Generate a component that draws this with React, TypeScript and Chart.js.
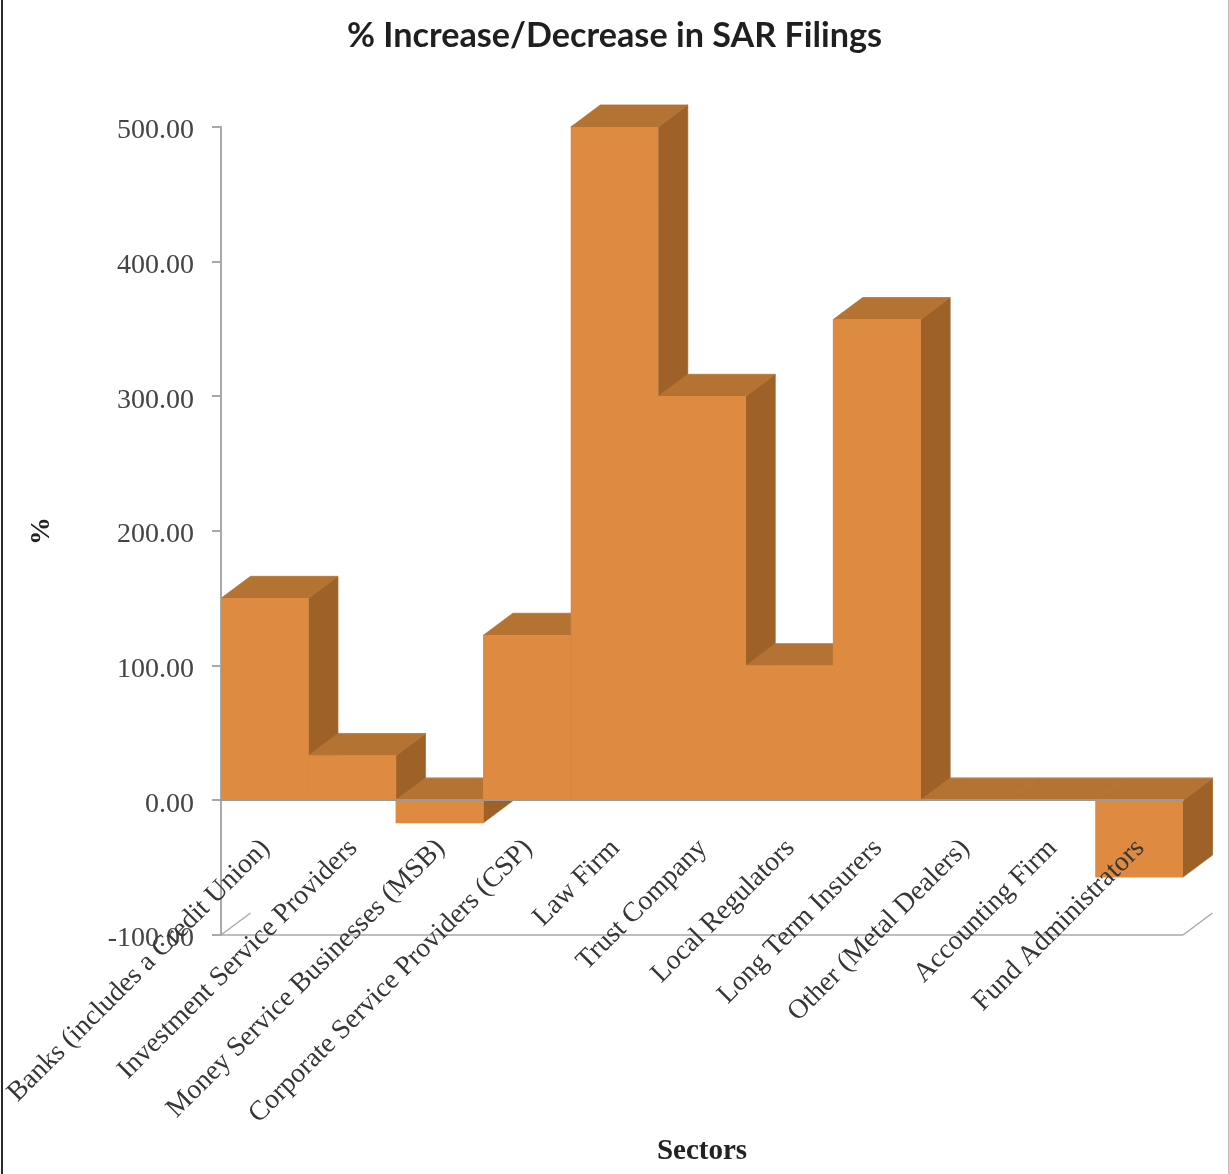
import React, { useEffect, useRef } from "react";
import { Chart, registerables } from "chart.js";

Chart.register(...registerables);

const sectors = [
  "Banks (includes a Credit Union)",
  "Investment Service Providers",
  "Money Service Businesses (MSB)",
  "Corporate Service Providers (CSP)",
  "Law Firm",
  "Trust Company",
  "Local Regulators",
  "Long Term Insurers",
  "Other (Metal Dealers)",
  "Accounting Firm",
  "Fund Administrators",
];
const percentChange = [150, 33.3, -16.7, 122.6, 500, 300, 100, 357, 0, 0, -57];
const yMin = -100;
const yMax = 500;
const yStep = 100;

const FRONT = "#de8b41";
const SIDE = "#9e6229";
const TOP = "#b47333";
const AXIS = "#a9a9a9";
const DEPTH_X = 29.5;
const DEPTH_Y = 22;
const SERIF = "'Liberation Serif', serif";

// Fills a face and strokes it in the same colour so neighbouring faces leave no seam.
function quad(ctx: CanvasRenderingContext2D, pts: number[][], fill: string) {
  ctx.fillStyle = fill;
  ctx.strokeStyle = fill;
  ctx.lineWidth = 0.75;
  ctx.beginPath();
  pts.forEach(([x, y], i) => (i ? ctx.lineTo(x, y) : ctx.moveTo(x, y)));
  ctx.closePath();
  ctx.fill();
  ctx.stroke();
}

function segment(ctx: CanvasRenderingContext2D, x1: number, y1: number, x2: number, y2: number, w: number) {
  ctx.strokeStyle = AXIS;
  ctx.lineWidth = w;
  ctx.beginPath();
  ctx.moveTo(x1, y1);
  ctx.lineTo(x2, y2);
  ctx.stroke();
}

// Extrudes each bar backwards: floor lines, then side and top faces left to right.
// The library paints the front faces afterwards, so nearer bars hide the faces behind them.
// Faces are anchored on the zero pixel, since a bar's own base is nudged by the axis line width.
const extrusion = {
  id: "extrusion",
  beforeDatasetsDraw(chart: any) {
    const { ctx, chartArea, scales } = chart;
    const floor = scales.y.getPixelForValue(yMin);
    const zero = scales.y.getPixelForValue(0);
    ctx.save();
    segment(ctx, chartArea.left, floor, chartArea.right, floor, 1.5);
    segment(ctx, chartArea.left, floor, chartArea.left + DEPTH_X, floor - DEPTH_Y, 1.5);
    segment(ctx, chartArea.right, floor, chartArea.right + DEPTH_X, floor - DEPTH_Y, 1.5);
    segment(ctx, chartArea.left + DEPTH_X, zero - DEPTH_Y - 0.5, chartArea.right + DEPTH_X, zero - DEPTH_Y - 0.5, 1);

    chart.getDatasetMeta(0).data.forEach((bar: any) => {
      const { x, y, width } = bar.getProps(["x", "y", "width"], true);
      const l = x - width / 2;
      const r = x + width / 2;
      const high = Math.min(y, zero);
      const low = Math.max(y, zero);
      if (low - high > 0.5) {
        quad(ctx, [[r, high], [r + DEPTH_X, high - DEPTH_Y], [r + DEPTH_X, low - DEPTH_Y], [r, low]], SIDE);
      }
      quad(ctx, [[l, high], [l + DEPTH_X, high - DEPTH_Y], [r + DEPTH_X, high - DEPTH_Y], [r, high]], TOP);
    });
    ctx.restore();
  },
};

export default function App() {
  const ref = useRef<HTMLCanvasElement | null>(null);

  useEffect(() => {
    const chart = new Chart(ref.current as HTMLCanvasElement, {
      type: "bar",
      plugins: [extrusion],
      data: {
        labels: sectors,
        datasets: [
          {
            data: percentChange,
            backgroundColor: FRONT,
            borderColor: "#cf8440",
            borderWidth: percentChange.map((_, i) => (i === 4 ? { left: 1 } : 0)) as any,
            borderSkipped: false,
            barPercentage: 1,
            categoryPercentage: 1,
          },
        ],
      },
      options: {
        responsive: false,
        animation: false,
        layout: { padding: { left: 0, right: 0, bottom: 239 } },
        plugins: {
          legend: { display: false },
          tooltip: { enabled: false },
          title: {
            display: true,
            text: "% Increase/Decrease in SAR Filings",
            color: "#1f1f1f",
            font: { family: "Lato, sans-serif", size: 34.2, weight: "bold" },
            padding: { top: 15, bottom: 70.9 },
          },
        },
        scales: {
          x: {
            position: { y: 0 } as any,
            // Long rotated labels may spill past the plot edges; the plot keeps its size,
            // and the fixed height sets how far below the zero line the axis title sits.
            afterFit(scale: any) {
              scale.paddingLeft = 0;
              scale.paddingRight = 0;
              scale.height = 369;
            },
            grid: { display: false, drawTicks: false },
            border: { color: "#9a9a9a", width: 2, z: 1 },
            ticks: {
              z: 1,
              autoSkip: false,
              minRotation: 45,
              maxRotation: 45,
              padding: 32,
              labelOffset: 1,
              color: "#363636",
              font: { family: SERIF, size: 27.7 },
            },
            title: {
              display: true,
              text: "Sectors",
              color: "#222222",
              font: { family: SERIF, size: 29, weight: "bold" },
              padding: { top: 0, bottom: 0 },
            },
          },
          y: {
            min: yMin,
            max: yMax,
            afterFit(scale: any) {
              scale.width = 221;
            },
            grid: { drawOnChartArea: false, tickLength: 9, tickColor: AXIS, lineWidth: 2 },
            border: { color: AXIS, width: 2 },
            ticks: {
              stepSize: yStep,
              padding: 18,
              labelOffset: 4,
              color: "#444444",
              font: { family: SERIF, size: 28 },
              callback: (v: any) => Number(v).toFixed(2),
            },
            title: {
              display: true,
              text: "%",
              color: "#222222",
              font: { family: SERIF, size: 28, weight: "bold" },
              padding: { top: 25, bottom: 0 },
            },
          },
          // Empty right-hand axis: reserves the margin for the depth of the bars.
          margin: {
            axis: "y",
            position: "right",
            display: true,
            afterFit(scale: any) {
              scale.width = 46;
            },
            grid: { display: false },
            border: { display: false },
            ticks: { display: false },
          } as any,
        },
      },
    });
    return () => chart.destroy();
  }, []);

  return (
    <div
      style={{
        position: "absolute",
        left: 0,
        top: 0,
        width: 1229,
        height: 1174,
        background: "#ffffff",
        overflow: "hidden",
      }}
    >
      <canvas ref={ref} width={1229} height={1174} style={{ display: "block" }} />
      <div style={{ position: "absolute", left: 1, top: 0, width: 2, height: 1174, background: "#2a2a2a" }} />
      <div style={{ position: "absolute", right: 0, top: 0, width: 1, height: 1174, background: "#bbbbbb" }} />
    </div>
  );
}
